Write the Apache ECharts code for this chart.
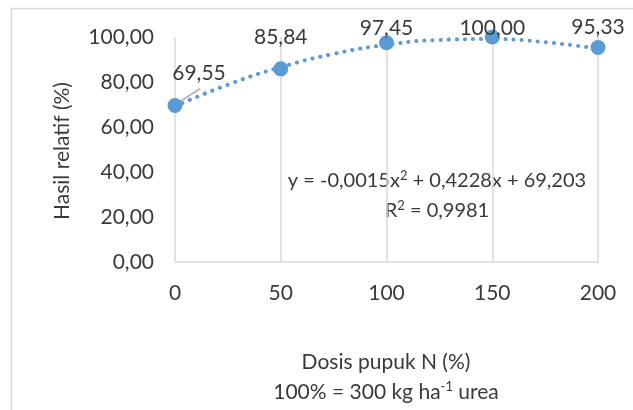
<!DOCTYPE html>
<html><head><meta charset="utf-8">
<script src="https://cdn.jsdelivr.net/npm/echarts@6/dist/echarts.min.js"></script>
<style>html,body{margin:0;padding:0;background:#fff}#c{width:633px;height:410px}</style>
</head><body><div id="c"></div>
<script>
const doses = [0, 50, 100, 150, 200];
const relYield = [69.55, 85.84, 97.45, 100.00, 95.33];
const trendX = [0, 25, 50, 75, 100, 125, 150, 175, 200];
const trendY = [69.2, 78.8, 86.6, 92.5, 96.5, 98.7, 99.1, 97.7, 94.8];
const yTicks = [0, 20, 40, 60, 80, 100];
const xTicks = [0, 50, 100, 150, 200];
const eqText = 'y = -0,0015x{s|2} + 0,4228x + 69,203';
const r2Text = 'R{s|2} = 0,9981';
const xTitle1 = 'Dosis pupuk N (%)';
const xTitle2 = '100% = 300 kg ha{s|-1} urea';
const yTitle = 'Hasil relatif (%)';

const FONT = 'Lato';
const TXT = '#3a3a3a';
const BLUE = '#5B9BD5';
const fmt = v => v.toFixed(2).replace('.', ',');
const labelOffsets = [[24, -4], [0, -4], [0, 13], [0, 19], [0, 8]];

const chart = echarts.init(document.getElementById('c'), null, {renderer: 'canvas'});
chart.setOption({
  backgroundColor: '#fff',
  animation: false,
  grid: {left: 175, right: 35, top: 37, bottom: 148},
  xAxis: {
    type: 'value', min: 0, max: 200, interval: 50,
    axisLine: {show: true, lineStyle: {color: '#d9d9d9', width: 1.5}},
    axisTick: {show: false},
    splitLine: {show: true, lineStyle: {color: '#d9d9d9', width: 1.5}},
    axisLabel: {color: TXT, fontFamily: FONT, fontSize: 21, margin: 21}
  },
  yAxis: {
    type: 'value', min: 0, max: 100, interval: 20,
    axisLine: {show: false}, axisTick: {show: false},
    splitLine: {show: false},
    axisLabel: {color: TXT, fontFamily: FONT, fontSize: 21, margin: 21, formatter: v => fmt(v)}
  },
  graphic: {elements: [
    {id: 'frame', type: 'rect', silent: true, shape: {x: 11.5, y: 8.5, width: 800, height: 600},
      style: {fill: 'none', stroke: '#d9d9d9', lineWidth: 1.5}},
    {id: 'ytitle', type: 'text', x: 62, y: 151, rotation: Math.PI / 2, silent: true,
      style: {text: yTitle, fill: TXT, font: '21px ' + FONT, align: 'center', verticalAlign: 'middle'}},
    {id: 'xt1', type: 'text', x: 386, y: 362, silent: true,
      style: {text: xTitle1, fill: TXT, font: '21px ' + FONT, align: 'center', verticalAlign: 'middle'}},
    {id: 'xt2', type: 'text', x: 386, y: 392, silent: true,
      style: {text: xTitle2, fill: TXT, fontFamily: FONT, fontSize: 21, align: 'center', verticalAlign: 'middle',
        rich: {s: {fontSize: 13, fontFamily: FONT, fill: TXT, padding: [0, 0, 10, 0]}}}},
    {id: 'eq', type: 'text', x: 437, y: 181, silent: true,
      style: {text: eqText, fill: TXT, fontFamily: FONT, fontSize: 20, align: 'center', verticalAlign: 'middle',
        rich: {s: {fontSize: 13, fontFamily: FONT, fill: TXT, padding: [0, 0, 10, 0]}}}},
    {id: 'r2', type: 'text', x: 437, y: 211, silent: true,
      style: {text: r2Text, fill: TXT, fontFamily: FONT, fontSize: 20, align: 'center', verticalAlign: 'middle',
        rich: {s: {fontSize: 13, fontFamily: FONT, fill: TXT, padding: [0, 0, 10, 0]}}}}
  ]},
  series: [
    {
      type: 'line', smooth: true, symbol: 'none', z: 2,
      data: trendX.map((x, i) => [x, trendY[i]]),
      lineStyle: {color: BLUE, width: 4, type: [0.1, 8], cap: 'round'}
    },
    {
      type: 'scatter', symbolSize: 15, z: 3,
      itemStyle: {color: BLUE, opacity: 1},
      data: doses.map((x, i) => ({
        value: [x, relYield[i]],
        label: {offset: labelOffsets[i]}
      })),
      label: {show: true, position: 'top', distance: 10, color: TXT, fontFamily: FONT, fontSize: 21,
        formatter: p => fmt(p.value[1])}
    }
  ]
});
// leader line for first label, anchored to the data point via the axis scale
const p0 = chart.convertToPixel({gridIndex: 0}, [doses[0], relYield[0]]);
chart.setOption({graphic: {elements: [{id: 'leader', type: 'line', silent: true, z: 1,
  shape: {x1: p0[0] + 2, y1: p0[1] - 2, x2: p0[0] + 25, y2: p0[1] - 17},
  style: {stroke: '#a6a6a6', lineWidth: 1.5}}]}});
</script></body></html>
